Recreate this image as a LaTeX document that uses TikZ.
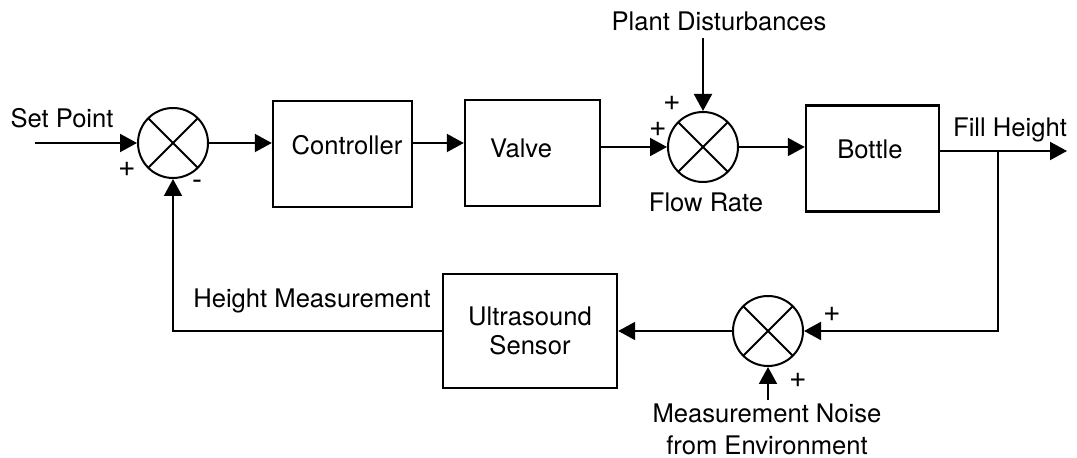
\documentclass[tikz,border=0pt]{standalone}
\usepackage{fontspec}
\setmainfont{TeX Gyre Heros}
\usetikzlibrary{positioning,arrows.meta}

\begin{document}
\begin{tikzpicture}[
		x=0.5pt, y=-0.5pt,
		font=\fontsize{12.8}{14.5}\selectfont,
		line width=1pt,
		block/.style={
			draw,
			line width=1.2pt,
			minimum width=#1,
			minimum height=53pt
		},
		sum/.style={
			draw,
			circle,
			minimum size=35pt,
			inner sep=0pt,
			path picture={
				\draw (path picture bounding box.north west) -- (path picture bounding box.south east);
				\draw (path picture bounding box.north east) -- (path picture bounding box.south west);
			}
		},
		sign/.style={font=\fontsize{15}{16}\selectfont, inner sep=0pt},
		arr/.style={-{Triangle[length=8.5pt,width=9pt]}}
		]
		
		\useasboundingbox (0,0) rectangle (1077,458);
		
		\node[sum] (sum1) at (173,143) {};
		
		\node[block=69.5pt, label={[xshift=2.25pt,yshift=4.5pt]center:Controller}] (ctrl) at (342.5,154) {};
		
		\node[block=67.5pt, label={[xshift=-5.75pt,yshift=2.5pt]center:Valve}] (valve) at (532.5,153) {};
		
		\node[sum] (sum2) at (703,147) {};
		
		\node[block=66.5pt, label={[xshift=-1.25pt,yshift=4.75pt]center:Bottle}] (bottle) at (872.5,158.5) {};
		
		\node[sum] (sum3) at (768,331) {};
		
		\node[block=87pt, minimum height=57pt, align=center] (sensor) at (530,331) {Ultrasound\\Sensor};
		
		\node (setpt) at (62,118) {Set Point};
		
		\node (dist) at (719,21) {Plant Disturbances};
		
		\node (flow) at (706,202) {Flow Rate};
		
		\node (fill) at (1010,130) {Fill Height};
		
		\node (hmeas) at (312,301) {Height Measurement};
		
		\node[align=center, inner sep=1pt] (noise) at (767,429) {Measurement Noise\\[1.5pt]from Environment};
		
		\node[sign] (s1a) at (127,169) {+};
		\node[sign] (s1b) at (197,185) {-};
		\node[sign] (s2a) at (672,103) {+};
		\node[sign] (s2b) at (658,129) {+};
		\node[sign] (s3a) at (832,314) {+};
		\node[sign] (s3b) at (798,380) {+};
		
		\coordinate (in) at (35,143);
		\coordinate (out) at (1067,151);
		\coordinate (branch) at (998,151);
		
		\draw[arr] (in)--(sum1);
		\draw[arr] (sum1)--(sum1 -| ctrl.west);
		\draw[arr] (ctrl.east |- sum1)--(valve.west |- sum1);
		\draw[arr] (valve.east |- sum2)--(sum2);
		\draw[arr] (dist.south -| sum2)--(sum2);
		\draw[arr] (sum2)--(sum2 -| bottle.west);
		\draw[arr] (bottle.east |- out)--(out);
		\draw[arr] (branch) |- (sum3);
		\draw[arr] (noise.north -| sum3)--(sum3);
		\draw[arr] (sum3)--(sum3 -| sensor.east);
		\draw[arr] (sensor.west |- sum3) -| (sum1);
		
	\end{tikzpicture}
\end{document}
